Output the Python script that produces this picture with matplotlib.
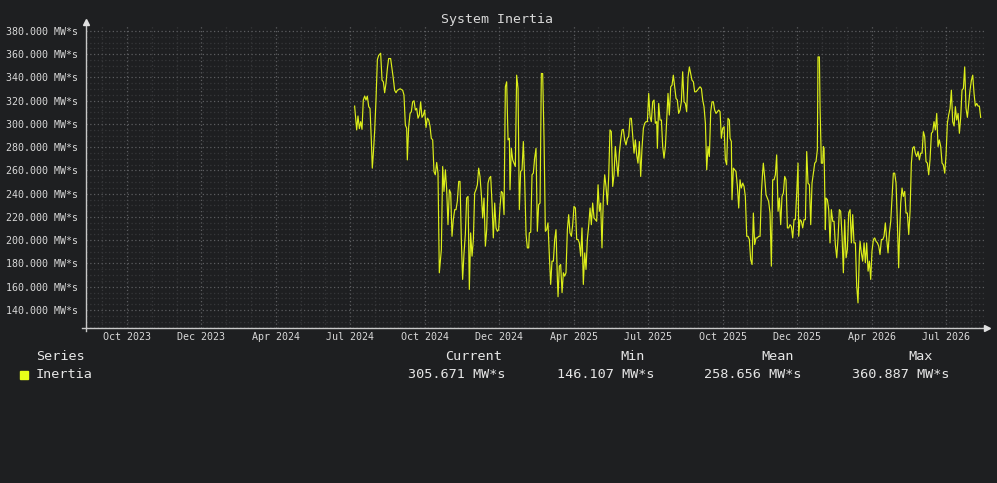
import matplotlib
matplotlib.use("Agg")
import matplotlib.pyplot as plt
from matplotlib.ticker import MultipleLocator, FixedLocator

# time axis in days from the left edge of the graph
sample_day = [
    # Jul - Oct 2024
    328.3, 330.8, 332.4, 334.1, 335.7, 337.3, 338.9, 340.6, 342.2, 343.8,
    345.5, 347.1, 348.7, 349.9, 351.2, 352.8, 354.4, 356.1, 357.7, 360.1,
    361.8, 363.4, 365.0, 366.6, 368.3, 369.9, 372.3, 374.0, 375.6, 377.2,
    378.9, 380.5, 383.8, 387.0, 388.6, 390.3, 391.9, 392.7, 394.3, 396.0,
    397.6, 399.2, 400.9, 402.5, 404.1, 405.8, 407.4, 409.0, 410.6, 412.3,
    413.9, 415.5, 417.2, 418.8, 420.4, 422.0, 423.7, 425.3, 426.9, 428.6,
    430.2, 431.8,
    # Oct 2024 - Jan 2025
    434.3, 435.9, 437.5, 439.2, 440.8, 442.4, 444.1, 445.7, 447.3, 448.9,
    450.6, 452.2, 453.8, 455.5, 457.1, 458.7, 460.3, 462.0, 463.6, 465.2,
    466.9, 468.5, 470.1, 471.8, 473.4, 475.0, 476.6, 478.3, 479.9, 481.5,
    483.2, 484.8, 486.4, 488.1, 489.7, 491.3, 492.9, 494.6, 496.2, 497.8,
    499.5, 501.1, 502.7, 504.3, 506.0, 507.6, 509.2, 510.9, 512.5, 514.1,
    515.8, 517.4, 518.2, 519.8, 521.5, 523.1, 524.7, 526.3, 528.0, 529.6,
    531.2, 532.9, 534.5, 536.1, 537.8, 539.4, 541.0,
    # Jan - Apr 2025
    541.8, 543.5, 545.1, 546.7, 548.3, 550.0, 551.6, 553.2, 554.9, 556.5,
    558.1, 559.8, 561.4, 563.0, 564.6, 566.3, 567.9, 569.5, 571.2, 572.8,
    574.4, 576.1, 576.9, 578.5, 580.1, 581.8, 583.4, 585.0, 586.6, 588.3,
    589.9, 591.5, 593.2, 594.8, 596.4, 598.1, 599.7, 601.3, 602.9, 604.6,
    606.2, 607.8, 609.5, 611.1, 612.7, 614.3, 616.0, 617.6, 619.2, 620.9,
    622.5, 624.1, 625.8, 627.4, 629.0, 630.6, 632.3, 633.9, 635.5, 637.2,
    638.8, 640.4, 642.0, 643.7, 645.3, 646.9, 648.6, 650.2,
    # Apr - Jul 2025
    651.8, 653.5, 655.1, 656.7, 658.3, 660.0, 661.6, 663.2, 664.9, 666.5,
    668.1, 669.8, 671.4, 673.0, 674.6, 676.3, 677.9, 679.5, 681.2, 682.8,
    684.4, 686.1, 687.7, 689.3, 690.9, 692.6, 694.2, 695.8, 697.5, 698.3,
    699.9, 701.5, 703.2, 704.8, 706.4, 708.1, 709.7, 711.3, 712.9, 714.6,
    716.2, 717.8, 719.5, 721.1, 722.7, 724.3, 726.0, 727.6, 729.2, 730.9,
    732.5, 734.1, 735.8, 737.4, 739.0, 740.6, 742.3, 743.9, 745.5, 747.2,
    748.8, 750.4, 752.1, 753.7, 755.3, 757.0, 758.6, 760.2,
    # Jul - Oct 2025
    761.8, 763.5, 765.1, 766.7, 768.3, 770.0, 771.6, 773.2, 774.9, 776.5,
    778.1, 779.8, 781.4, 783.0, 784.6, 786.3, 787.1, 788.7, 789.5, 791.2,
    792.8, 794.4, 796.1, 797.7, 799.3, 800.9, 802.6, 804.2, 805.8, 807.5,
    809.1, 810.7, 812.3, 814.0, 815.6, 817.2, 818.9, 820.5, 822.1, 823.8,
    825.4, 827.0, 827.8, 829.5, 831.1, 832.7, 834.3, 836.0, 837.6, 839.2,
    840.9, 842.5, 844.1, 845.8, 847.4, 849.0, 850.6, 852.3, 853.9, 855.5,
    857.2, 858.8, 860.4, 862.0, 863.7, 865.3, 866.9, 868.6, 870.2,
    # Oct 2025 - Jan 2026
    871.0, 872.6, 874.3, 875.9, 877.5, 879.2, 880.8, 882.4, 884.1, 885.7,
    887.3, 888.9, 890.6, 892.2, 893.8, 894.6, 896.3, 897.1, 898.7, 900.3,
    901.2, 902.0, 903.6, 904.4, 906.1, 907.7, 909.3, 910.9, 912.6, 914.2,
    915.8, 917.5, 919.1, 920.7, 922.3, 924.0, 925.6, 927.2, 928.9, 930.5,
    932.1, 933.8, 935.4, 937.0, 938.6, 940.3, 941.9, 943.5, 945.2, 946.0,
    947.6, 949.2, 950.9, 952.5, 954.1, 955.8, 957.4, 959.0, 960.6, 962.3,
    963.9, 965.5, 967.2, 968.8, 970.4, 972.1, 973.7, 975.3, 976.9, 978.6,
    # Jan 2026 - end
    980.2, 981.8, 983.5, 985.1, 986.7, 988.3, 990.0, 991.6, 993.2, 994.1,
    995.7, 997.3, 998.9, 1000.6, 1002.2, 1003.8, 1005.5, 1007.1, 1008.7, 1010.3,
    1012.0, 1013.6, 1015.2, 1016.9, 1018.5, 1020.1, 1021.8, 1023.4, 1025.0, 1026.6,
    1028.3, 1029.9, 1031.5, 1033.2, 1034.8, 1036.4, 1038.1, 1039.7, 1041.3, 1042.9,
    1044.6, 1046.2, 1047.8, 1049.5, 1051.1, 1052.7, 1054.3, 1056.0, 1057.6, 1059.2,
    1060.9, 1062.5, 1064.1, 1065.8, 1067.4, 1069.0, 1070.6, 1072.3, 1073.9, 1075.5,
    1077.2, 1078.8, 1080.4, 1082.1, 1083.7, 1085.3, 1086.9, 1088.6, 1090.2, 1091.8,
    1093.4,
]

inertia_mws = [
    315.4, 294.9, 306.9, 296.0, 302.0, 295.4, 320.6, 324.0, 320.6, 324.0,
    314.9, 313.4, 286.3, 262.0, 274.9, 294.3, 320.6, 355.4, 359.0, 360.887,
    337.7, 336.3, 326.9, 334.9, 347.7, 356.3, 356.3, 347.7, 339.0, 329.0,
    326.9, 329.0, 330.3, 329.0, 324.9, 299.1, 296.3, 269.1, 297.0, 309.0,
    310.6, 319.0, 320.0, 312.0, 313.4, 305.0, 307.7, 319.0, 305.7, 307.7,
    312.0, 297.0, 305.0, 303.4, 298.3, 287.7, 286.3, 259.1, 256.3, 266.9,
    257.7, 172.0,
    192.0, 263.4, 242.0, 260.6, 243.4, 213.4, 243.4, 240.6, 203.4, 217.7,
    226.3, 226.3, 233.4, 250.6, 250.6, 200.6, 166.3, 189.1, 204.9, 236.3,
    237.7, 157.7, 206.3, 186.3, 200.6, 240.6, 243.4, 247.7, 262.0, 254.9,
    239.1, 219.1, 236.3, 194.9, 209.1, 249.1, 253.4, 254.9, 232.0, 202.0,
    232.0, 210.6, 207.7, 209.1, 229.1, 242.0, 240.6, 222.0, 332.0, 336.3,
    286.3, 287.7, 243.4, 279.1, 269.1, 266.3, 263.4, 342.0, 330.6, 226.3,
    259.1, 260.6, 284.9, 252.0, 204.9, 193.4, 193.4,
    206.3, 206.9, 256.3, 257.7, 270.6, 279.1, 207.7, 230.6, 232.0, 343.4,
    343.4, 286.3, 207.7, 209.1, 214.9, 186.3, 162.0, 182.0, 182.0, 200.6,
    209.1, 166.3, 151.4, 177.7, 179.1, 154.9, 172.0, 169.1, 172.0, 209.1,
    222.0, 206.3, 203.4, 213.4, 229.1, 227.7, 200.6, 200.6, 197.7, 186.3,
    210.6, 162.0, 189.1, 174.9, 200.6, 212.0, 227.7, 213.4, 232.0, 219.1,
    217.7, 216.3, 247.7, 224.9, 232.0, 193.4, 237.7, 256.3, 246.3, 230.6,
    254.9, 294.9, 293.4, 246.3, 256.3, 280.6, 266.3, 254.9,
    274.9, 286.3, 294.9, 295.4, 286.3, 282.0, 287.7, 289.1, 304.9, 304.9,
    290.6, 274.9, 286.3, 273.4, 266.3, 284.9, 254.9, 279.1, 296.3, 300.6,
    302.0, 302.0, 326.3, 306.3, 302.0, 319.1, 320.6, 300.6, 302.0, 279.1,
    317.7, 303.4, 303.4, 280.6, 270.6, 280.6, 303.4, 326.3, 307.7, 332.0,
    333.4, 342.0, 332.0, 322.0, 320.6, 309.1, 312.0, 319.1, 344.9, 319.1,
    317.7, 310.6, 340.6, 349.1, 343.4, 337.7, 336.3, 327.7, 327.7, 329.1,
    330.6, 332.0, 330.6, 320.6, 314.9, 300.6, 260.6, 280.6,
    272.0, 310.6, 319.1, 319.1, 312.0, 309.1, 310.6, 312.0, 310.6, 287.7,
    296.3, 297.7, 269.1, 264.9, 304.9, 303.4, 287.7, 284.9, 234.9, 262.0,
    260.6, 259.1, 246.3, 227.7, 252.0, 244.9, 249.1, 246.3, 237.7, 203.4,
    203.4, 200.6, 183.4, 179.1, 223.4, 196.3, 202.0, 202.0, 203.4, 203.4,
    240.6, 259.1, 266.3, 253.4, 239.1, 236.3, 233.4, 223.4, 177.7, 252.0,
    252.0, 256.3, 273.4, 224.9, 236.3, 213.4, 237.7, 240.6, 254.9, 252.0,
    210.6, 210.6, 213.4, 212.0, 202.0, 217.7, 217.7, 240.6, 266.3,
    203.4, 217.7, 216.3, 210.6, 217.7, 217.7, 276.3, 249.1, 247.7, 213.4,
    249.1, 257.7, 266.3, 267.7, 277.7, 357.7, 357.7, 314.9, 266.3, 266.3,
    280.6, 279.1, 209.1, 236.3, 234.9, 226.3, 197.7, 226.3, 216.3, 216.3,
    196.3, 184.9, 202.0, 226.3, 224.9, 203.4, 172.0, 217.7, 184.9, 192.0,
    223.4, 226.3, 197.7, 222.0, 197.7, 197.7, 160.6, 146.107, 189.1, 199.1,
    189.1, 182.0, 197.7, 180.6, 197.7, 173.4, 182.0, 166.3, 190.6, 200.6,
    202.0, 199.1, 197.7, 194.9, 187.7, 200.6, 200.6, 203.4, 214.9, 200.6,
    189.1, 206.3, 216.3, 237.7, 257.7, 257.7, 249.1, 214.9, 176.3, 200.6,
    232.0, 244.9, 237.7, 242.0, 223.4, 223.4, 204.9, 224.9, 266.3, 279.1,
    280.6, 274.9, 272.0, 276.3, 269.1, 274.9, 274.9, 293.4, 289.1, 267.7,
    266.3, 256.3, 269.1, 292.0, 293.4, 302.0, 294.9, 309.1, 280.6, 286.3,
    280.6, 266.3, 264.9, 257.7, 273.4, 300.6, 307.7, 313.4, 329.1, 302.0,
    298.3, 314.9, 303.4, 309.1, 292.0, 305.7, 329.1, 330.6, 349.1, 313.4,
    305.7, 317.7, 329.1, 337.7, 342.0, 326.3, 315.4, 317.7, 315.4, 315.4,
    305.671,
]

tick_days = [50, 141, 232, 323, 414, 505, 596, 687, 778, 869, 960, 1051]
tick_labels = ["Oct 2023", "Dec 2023", "Apr 2024", "Jul 2024", "Oct 2024", "Dec 2024",
               "Apr 2025", "Jul 2025", "Oct 2025", "Dec 2025", "Apr 2026", "Jul 2026"]

legend_headers = ["Current", "Min", "Mean", "Max"]
legend_values = ["305.671 MW*s", "146.107 MW*s", "258.656 MW*s", "360.887 MW*s"]

bg = "#1e1f21"
fg = "#d8d8d8"
line_col = "#dcee1a"
mono = "DejaVu Sans Mono"

W, H = 997, 483
fig = plt.figure(figsize=(W / 100, H / 100), dpi=100, facecolor=bg)
ax = fig.add_axes([86 / W, (H - 328) / H, (985 - 86) / W, (328 - 26) / H])
ax.set_facecolor(bg)

ax.plot(sample_day, inertia_mws, color=line_col, lw=0.85)

ax.set_xlim(0, 1098.7)
ax.set_ylim(124.5, 384.3)

ax.xaxis.set_major_locator(FixedLocator(tick_days))
ax.set_xticklabels(tick_labels)
minor_x = []
d = tick_days[0] - 91 / 3
while d < 1098.7:
    minor_x.append(d)
    d += 91 / 3
ax.xaxis.set_minor_locator(FixedLocator(minor_x))
ax.yaxis.set_major_locator(MultipleLocator(20))
ax.yaxis.set_minor_locator(MultipleLocator(5))
ax.yaxis.set_major_formatter(lambda v, p: "%.3f MW*s" % v)

ax.grid(True, which="major", color="#5c5d60", ls=(0, (1, 2)), lw=0.9)
ax.grid(True, which="minor", color="#36373a", ls=(0, (1, 2)), lw=0.9)
ax.set_axisbelow(True)

ax.tick_params(which="both", length=0, colors=fg)
ax.tick_params(axis="y", pad=6)
ax.tick_params(axis="x", pad=3)
for lab in ax.get_xticklabels() + ax.get_yticklabels():
    lab.set_fontfamily(mono)
    lab.set_fontsize(7.2)
    lab.set_color(fg)

for s in ax.spines.values():
    s.set_visible(False)

# axes with arrows
ax.plot([0, 0], [-0.01, 1.0 + 3 / 302], transform=ax.transAxes, color="#c8c8c8",
        lw=1, clip_on=False)
ax.plot([0], [1.0 + 4 / 302], marker="^", ms=4, color="#e0e0e0",
        transform=ax.transAxes, clip_on=False)
ax.plot([-0.004, 1.0 + 1 / 899], [0, 0], transform=ax.transAxes, color="#c8c8c8",
        lw=1, clip_on=False)
ax.plot([1.0 + 2 / 899], [0], marker=">", ms=4, color="#e0e0e0",
        transform=ax.transAxes, clip_on=False)

fig.text(497 / W, 1 - 19 / H, "System Inertia", ha="center", va="center",
         fontfamily=mono, fontsize=9.5, color=fg)

# legend table
fig.text(36 / W, 1 - 356 / H, "Series", ha="left", va="center",
         fontfamily=mono, fontsize=9.7, color="#e6e6e6")
fig.text(36 / W, 1 - 374 / H, "Inertia", ha="left", va="center",
         fontfamily=mono, fontsize=9.7, color="#e6e6e6")
fig.patches.append(plt.Rectangle((20 / W, 1 - 379 / H), 8 / W, 8 / H,
                                 transform=fig.transFigure, color="#e8ff1a"))
head_x = [445, 620, 761, 908]
val_x = [408, 557, 704, 852]
for hx, hd in zip(head_x, legend_headers):
    fig.text(hx / W, 1 - 356 / H, hd, ha="left", va="center",
             fontfamily=mono, fontsize=9.7, color="#e6e6e6")
for vx, vl in zip(val_x, legend_values):
    fig.text(vx / W, 1 - 374 / H, vl, ha="left", va="center",
             fontfamily=mono, fontsize=9.7, color="#e6e6e6")

fig.savefig("out.png", dpi=100, facecolor=bg)
